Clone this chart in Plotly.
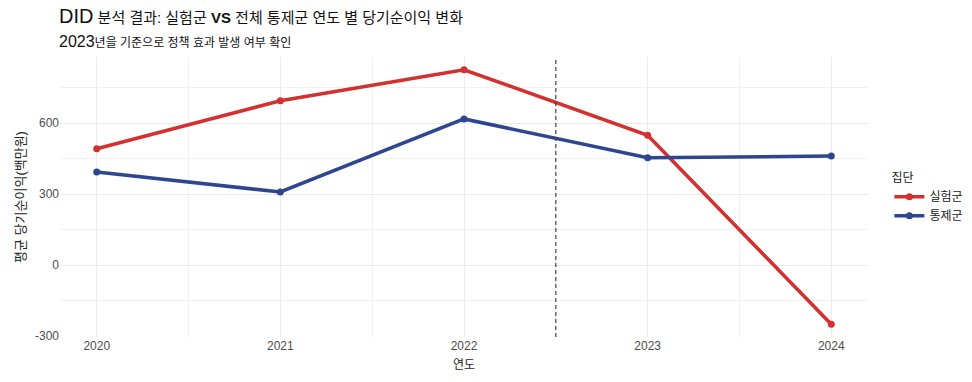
import plotly.graph_objects as go

years = [2020, 2021, 2022, 2023, 2024]
treat_vals = [492, 695, 826, 549, -250]
ctrl_vals = [394, 309, 618, 454, 461]
group_names = ["실험군", "통제군"]
y_ticks = [-300, 0, 300, 600]
y_tick_labels = ["-300", "0", "300", "600"]
policy_year = 2022.5

red = "#D3302F"
blue = "#2E4690"
font_family = "Liberation Sans, Arial, Noto Sans CJK KR, sans-serif"

fig = go.Figure()
for name, vals, col in [(group_names[0], treat_vals, red), (group_names[1], ctrl_vals, blue)]:
    fig.add_trace(go.Scatter(
        x=years, y=vals, name=name, mode="lines+markers",
        line=dict(color=col, width=3.6),
        marker=dict(color=col, size=7),
    ))

fig.add_shape(type="line", x0=policy_year, x1=policy_year, y0=0, y1=1,
              xref="x", yref="paper",
              line=dict(color="#444444", width=1.2, dash="4px,3px"))

fig.add_annotation(
    text="<span style='font-size:20px'>DID</span> 분석 결과: 실험군 <b>VS</b> 전체 통제군 연도 별 당기순이익 변화",
    xref="paper", yref="paper", x=0, y=1, xshift=-3, yshift=28,
    xanchor="left", yanchor="bottom", showarrow=False,
    font=dict(size=15, color="#111111"),
)
fig.add_annotation(
    text="<span style='font-size:16px'>2023</span>년을 기준으로 정책 효과 발생 여부 확인",
    xref="paper", yref="paper", x=0, y=1, xshift=-3, yshift=5,
    xanchor="left", yanchor="bottom", showarrow=False,
    font=dict(size=12, color="#111111"),
)

grid = "#EBEBEB"
fig.update_layout(
    width=972, height=382,
    margin=dict(l=60, r=104, t=57, b=45, autoexpand=False),
    paper_bgcolor="white", plot_bgcolor="white",
    font=dict(family=font_family, color="#4D4D4D", size=12),
    xaxis=dict(
        range=[2019.8, 2024.2], tickvals=years, ticktext=[str(y) for y in years],
        showgrid=True, gridcolor=grid, gridwidth=1, zeroline=False, automargin=False,
        minor=dict(showgrid=True, gridcolor="#F1F1F1", gridwidth=0.8, tickvals=[2020.5, 2021.5, 2022.5, 2023.5]),
        title=dict(text="연도", font=dict(size=12, color="#222222"), standoff=8),
        tickfont=dict(size=12, color="#4D4D4D"), ticks="", showline=False,
    ),
    yaxis=dict(
        range=[-303.8, 879.8], tickvals=y_ticks, ticktext=y_tick_labels,
        showgrid=True, gridcolor=grid, gridwidth=1, zeroline=False, automargin=False,
        minor=dict(showgrid=True, gridcolor="#F1F1F1", gridwidth=0.8, tickvals=[-150, 150, 450, 750]),
        title=dict(text="평균 당기순이익(백만원)", font=dict(size=13, color="#222222"), standoff=6),
        tickfont=dict(size=12, color="#4D4D4D"), ticks="", showline=False,
    ),
    legend=dict(
        title=dict(text="집단", font=dict(size=12, color="#222222")),
        xref="container", yref="container",
        x=0.915, xanchor="left", y=0.48, yanchor="middle",
        font=dict(size=12, color="#222222"),
        itemwidth=30,
        bgcolor="rgba(0,0,0,0)",
    ),
    showlegend=True,
)

fig.write_html("out.html", config={"displayModeBar": False},
               post_script="document.body.style.margin='0';document.body.style.overflow='hidden';")
